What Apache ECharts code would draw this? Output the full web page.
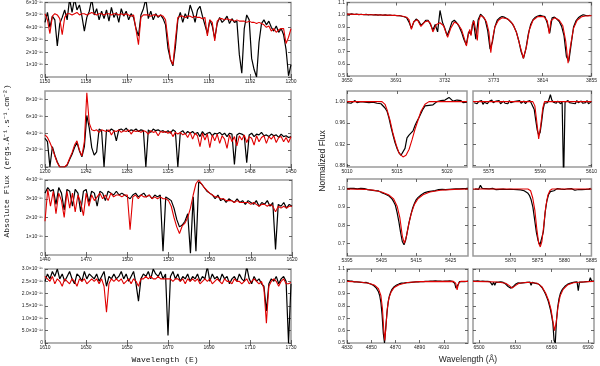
<!DOCTYPE html>
<html>
<head>
<meta charset="utf-8">
<script src="https://cdn.jsdelivr.net/npm/echarts@6/dist/echarts.min.js"></script>
<style>
html, body { margin: 0; padding: 0; background: #fff; }
#chart { width: 600px; height: 366px; }
</style>
</head>
<body>
<div id="chart"></div>
<script>
// ---------- UV spectra (flux in units of 1e-15 erg/A/s/cm2) ----------
// 1150-1200, step 0.5
var uv1Obs = [
  4.4, 5.2, 4.0, 4.9, 4.6, 2.5, 4.3, 4.8, 5.4, 4.6,
  6.3, 5.2, 6.3, 5.4, 5.8, 4.9, 3.7, 4.8, 5.3, 6.3,
  5.0, 5.5, 4.6, 5.3, 4.7, 5.4, 4.5, 5.6, 4.8, 5.2,
  4.4, 5.5, 4.9, 5.3, 4.6, 5.1, 4.8, 3.9, 3.3, 5.0,
  5.5, 6.3, 4.7, 5.3, 4.6, 5.1, 4.8, 5.0, 4.7, 4.2,
  2.3, 1.4, 0.9, 2.4, 4.6, 5.2, 4.4, 5.1, 4.7, 5.8,
  5.2, 4.4, 5.4, 5.7, 4.9, 4.2, 3.5, 4.6, 4.1, 3.1,
  4.3, 4.8, 4.4, 4.6, 4.9, 4.3, 4.7, 4.4, 4.5, 1.8,
  0.3, 3.9, 5.0, 4.6, 1.5, 0.6, 0.0, 2.8, 4.3, 4.6,
  4.2, 4.5, 4.0, 3.7, 4.1, 3.6, 3.9, 3.4, 2.2, 0.1,
  1.0
];
var uv1Mod = [
  5.1, 4.6, 3.5, 4.9, 5.1, 5.0, 4.7, 3.4, 4.8, 5.1,
  5.1, 5.0, 5.1, 5.2, 5.0, 5.1, 5.1, 5.0, 5.1, 5.2,
  5.1, 5.0, 5.1, 5.1, 5.0, 5.1, 5.1, 5.0, 5.1, 5.1,
  5.0, 5.1, 5.0, 5.1, 5.0, 4.9, 5.0, 3.8, 2.6, 4.8,
  5.0, 5.0, 5.0, 4.9, 5.0, 5.0, 4.9, 5.0, 4.9, 4.6,
  3.0, 1.4, 1.0, 3.0, 4.8, 4.9, 4.9, 4.8, 4.9, 4.9,
  4.8, 4.9, 4.8, 4.8, 4.7, 4.8, 3.3, 4.6, 4.4, 2.9,
  4.5, 4.7, 4.7, 4.6, 4.7, 4.6, 4.6, 4.5, 4.6, 4.5,
  4.5, 4.5, 4.4, 4.5, 4.4, 4.4, 4.3, 4.4, 4.3, 4.2,
  4.0, 4.1, 3.7, 3.9, 3.6, 3.8, 3.9, 3.9, 2.7, 3.2,
  3.9
];
var uv1XTicks = [1150, 1158.33, 1166.67, 1175, 1183.33, 1191.67, 1200];
var uv1YTicks = [0, 1, 2, 3, 4, 5, 6];
var uv1YLabels = ['0', '1×10⁻¹⁵', '2×10⁻¹⁵', '3×10⁻¹⁵', '4×10⁻¹⁵', '5×10⁻¹⁵', '6×10⁻¹⁵'];

// 1200-1450, step 2.5
var uv2Obs = [
  3.4, 3.0, 0.0, 2.4, 1.4, 0.6, 0.0, 0.0, 0.0, 0.2,
  0.9, 1.5, 2.3, 2.9, 1.9, 1.2, 2.4, 6.1, 4.6, 2.3,
  1.4, 1.8, 4.5, 4.3, 0.0, 4.4, 4.2, 4.5, 4.3, 3.1,
  4.4, 4.5, 4.3, 4.6, 4.2, 4.4, 4.3, 4.5, 4.2, 4.4,
  4.3, 0.0, 4.4, 4.1, 4.5, 4.3, 4.4, 4.2, 4.3, 4.1,
  4.3, 4.0, 4.4, 4.2, 0.0, 4.1, 4.3, 3.9, 4.2, 4.0,
  4.2, 3.9, 4.1, 3.6, 4.2, 3.8, 4.0, 4.1, 3.7, 4.0,
  3.9, 4.1, 3.8, 4.0, 3.6, 4.0, 3.9, 0.3, 3.8, 4.0,
  3.9, 3.7, 0.5, 3.8, 4.0, 3.6, 3.9, 3.8, 4.1, 3.7,
  3.8, 3.6, 3.9, 3.7, 3.8, 3.5, 3.9, 3.6, 3.7, 3.5,
  3.6
];
var uv2Mod = [
  3.8, 3.5, 2.9, 2.2, 1.3, 0.5, 0.0, 0.0, 0.0, 0.3,
  1.0, 1.7, 2.6, 3.1, 2.0, 1.3, 3.0, 8.8, 5.2, 4.4,
  4.3, 4.4, 4.1, 4.4, 4.3, 4.2, 4.4, 3.8, 4.3, 4.2,
  4.4, 4.1, 4.3, 4.2, 4.4, 3.9, 4.3, 4.2, 4.3, 4.1,
  4.3, 4.2, 3.9, 4.3, 4.1, 4.2, 3.7, 4.2, 4.1, 4.2,
  4.0, 4.2, 3.6, 4.1, 3.9, 4.1, 3.8, 4.0, 3.5, 4.1,
  3.3, 4.0, 3.7, 2.4, 4.0, 3.2, 3.9, 2.3, 3.8, 3.1,
  3.9, 2.8, 3.7, 3.3, 2.2, 3.8, 3.0, 3.6, 2.5, 3.7,
  3.2, 3.8, 2.9, 3.6, 3.4, 2.6, 3.7, 3.0, 3.5, 3.7,
  2.8, 3.6, 3.3, 3.7, 2.9, 3.5, 3.6, 3.0, 3.5, 2.9,
  3.6
];
var uv2XTicks = [1200, 1241.67, 1283.33, 1325, 1366.67, 1408.33, 1450];
var uv2YTicks = [0, 2, 4, 6, 8];
var uv2YLabels = ['0', '2×10⁻¹⁵', '4×10⁻¹⁵', '6×10⁻¹⁵', '8×10⁻¹⁵'];

// 1440-1620, step 2
var uv3Obs = [
  3.3, 3.6, 3.4, 3.5, 2.7, 3.6, 3.3, 2.4, 3.5, 3.4,
  2.6, 3.5, 3.3, 2.3, 3.4, 3.5, 2.8, 3.4, 3.3, 2.6,
  3.4, 3.3, 2.9, 3.4, 3.3, 3.2, 3.4, 3.2, 3.3, 3.2,
  3.1, 3.0, 3.2, 3.3, 3.1, 3.2, 3.3, 3.1, 3.2, 3.0,
  3.2, 3.1, 3.2, 0.2, 3.1, 3.0, 2.9, 2.5, 1.9, 1.5,
  1.6, 1.8, 2.2, 0.1, 3.1, 0.2, 3.9, 3.8, 3.6, 3.4,
  3.3, 3.2, 3.0, 3.2, 2.9, 3.0, 2.8, 3.0, 2.9, 2.8,
  3.0, 2.8, 2.9, 2.7, 2.9, 2.8, 2.7, 2.9, 2.6, 2.8,
  2.7, 2.9, 2.6, 2.8, 0.3, 2.7, 2.6, 2.8, 2.5, 2.7,
  2.6
];
var uv3Mod = [
  1.8, 3.5, 2.6, 3.4, 2.2, 3.3, 2.9, 2.0, 3.4, 2.5,
  3.3, 2.3, 3.2, 2.8, 2.1, 3.3, 2.6, 3.2, 2.9, 3.1,
  3.3, 3.0, 3.2, 2.9, 3.3, 3.1, 3.2, 3.2, 3.1, 3.2,
  3.2, 1.35, 3.1, 3.2, 3.0, 3.2, 3.1, 3.1, 3.2, 3.0,
  3.1, 3.0, 3.1, 3.0, 3.0, 2.9, 2.6, 2.0, 1.5, 1.15,
  1.55, 1.7, 2.0, 2.5, 3.2, 3.8, 4.0, 3.8, 3.6, 3.45,
  3.3, 3.2, 3.1, 3.1, 3.0, 3.0, 2.9, 2.9, 2.9, 2.8,
  2.9, 2.8, 2.8, 2.8, 2.8, 2.7, 2.8, 2.7, 2.6, 2.7,
  2.7, 2.6, 2.7, 2.6, 2.3, 2.6, 2.5, 2.6, 2.5, 2.6,
  2.6
];
var uv3XTicks = [1440, 1470, 1500, 1530, 1560, 1590, 1620];
var uv3YTicks = [0, 1, 2, 3, 4];
var uv3YLabels = ['0', '1×10⁻¹⁵', '2×10⁻¹⁵', '3×10⁻¹⁵', '4×10⁻¹⁵'];

// 1610-1730, step 1.2
var uv4Obs = [
  2.5, 2.8, 2.6, 2.9, 2.7, 3.0, 2.6, 2.8, 2.5, 2.7,
  2.9, 2.6, 2.4, 2.8, 2.7, 2.5, 2.9, 2.6, 2.8, 2.7,
  2.6, 2.8, 2.5, 2.7, 2.9, 2.3, 2.7, 2.6, 2.8, 2.6,
  2.7, 2.9, 2.6, 2.8, 2.5, 2.7, 2.9, 2.4, 1.7, 2.6,
  2.8, 2.7, 2.9, 2.6, 3.0, 2.8, 2.7, 2.9, 2.6, 2.8,
  0.3, 2.7, 2.9, 2.6, 2.8, 2.5, 2.7, 2.6, 2.8, 2.5,
  2.7, 2.6, 2.8, 2.5, 2.7, 2.6, 3.1, 2.5, 2.8, 2.6,
  2.7, 2.5, 2.8, 2.6, 2.7, 2.4, 2.6, 2.7, 2.5, 2.8,
  2.6, 2.5, 3.1, 2.6, 2.4, 2.7, 2.5, 2.6, 2.4, 2.3,
  1.3, 2.4, 2.6, 2.5, 2.7, 2.4, 2.6, 2.7, 2.5, 0.0,
  2.4
];
var uv4Mod = [
  2.7, 2.6, 2.5, 2.7, 2.4, 2.6, 2.5, 2.3, 2.6, 2.5,
  2.4, 2.6, 2.5, 2.3, 2.6, 2.5, 2.6, 2.4, 2.5, 2.6,
  2.5, 2.6, 2.4, 2.6, 2.3, 1.25, 2.4, 2.6, 2.5, 2.6,
  2.5, 2.6, 2.4, 2.5, 2.6, 2.4, 2.6, 2.5, 2.3, 2.6,
  2.6, 2.7, 2.6, 2.7, 2.6, 2.6, 2.7, 2.6, 2.6, 2.6,
  2.6, 2.6, 2.5, 2.6, 2.6, 2.5, 2.6, 2.4, 2.6, 2.5,
  2.6, 2.5, 2.6, 2.4, 2.5, 2.6, 2.5, 2.6, 2.4, 2.5,
  2.6, 2.5, 2.4, 2.6, 2.5, 2.5, 2.4, 2.6, 2.5, 2.5,
  2.4, 2.5, 2.6, 2.4, 2.5, 2.6, 2.5, 2.4, 2.5, 2.2,
  0.8, 2.3, 2.5, 2.6, 2.5, 2.3, 2.5, 2.6, 2.4, 2.4,
  2.45
];
var uv4XTicks = [1610, 1630, 1650, 1670, 1690, 1710, 1730];
var uv4YTicks = [0, 0.5, 1, 1.5, 2, 2.5, 3];
var uv4YLabels = ['0', '5.0×10⁻¹⁶', '1.0×10⁻¹⁵', '1.5×10⁻¹⁵', '2.0×10⁻¹⁵', '2.5×10⁻¹⁵', '3.0×10⁻¹⁵'];

// ---------- optical, normalized flux ----------
// Balmer series 3650-3854, step 2
var balObs = [
  1.006, 1.003, 1.007, 1.002, 1.005, 1.001, 1.004, 1.000, 1.003, 0.999,
  1.002, 0.998, 1.001, 0.997, 1.000, 0.996, 0.999, 0.995, 0.998, 0.994,
  0.996, 0.992, 0.994, 0.988, 0.984, 0.975, 0.940, 0.890, 0.940, 0.965,
  0.950, 0.915, 0.930, 0.955, 0.955, 0.920, 0.875, 0.920, 0.860, 1.035,
  0.940, 0.890, 0.830, 0.880, 0.940, 0.955, 0.935, 0.905, 0.860, 0.800,
  0.755, 0.860, 0.840, 0.955, 0.800, 0.960, 1.005, 0.985, 0.955, 0.870,
  0.720, 0.780, 0.900, 0.955, 0.975, 0.985, 0.980, 0.970, 0.955, 0.935,
  0.905, 0.860, 0.790, 0.700, 0.645, 0.720, 0.840, 0.920, 0.960, 0.980,
  0.990, 0.995, 0.990, 0.985, 0.930, 0.850, 0.975, 0.980, 0.965, 0.945,
  0.905, 0.830, 0.660, 0.620, 0.760, 0.900, 0.950, 0.975, 0.990, 1.000,
  0.995, 0.992, 0.996
];
var balMod = [
  [3650, 1.005], [3670, 1.0], [3690, 0.995], [3696, 0.99], [3700, 0.98], [3702, 0.96],
  [3704, 0.88], [3706, 0.945], [3709, 0.96], [3712, 0.905], [3715, 0.94], [3718, 0.95],
  [3720, 0.93], [3722, 0.86], [3725, 0.92], [3728, 0.935], [3731, 0.91], [3734.4, 0.815],
  [3737, 0.89], [3740, 0.94], [3743, 0.925], [3746, 0.88], [3748, 0.82], [3750.2, 0.745],
  [3752, 0.85], [3753, 0.88], [3754, 0.83], [3755, 0.92], [3756.5, 0.95], [3758, 0.87],
  [3759.3, 0.79], [3760.5, 0.95], [3762, 0.995], [3765, 0.975], [3767, 0.94], [3769, 0.86],
  [3770.6, 0.69], [3772, 0.80], [3774, 0.90], [3777, 0.955], [3780, 0.975], [3785, 0.965],
  [3789, 0.925], [3792, 0.86], [3795, 0.75], [3797.9, 0.645], [3800.5, 0.74], [3803, 0.88],
  [3806, 0.955], [3810, 0.985], [3815, 0.985], [3818, 0.95], [3819.6, 0.845], [3821, 0.95],
  [3824, 0.975], [3828, 0.955], [3831, 0.91], [3833.5, 0.78], [3835.4, 0.605], [3837.5, 0.75],
  [3840, 0.89], [3843, 0.955], [3847, 0.985], [3850, 0.99], [3855, 0.993]
];
var balXTicks = [3650, 3691, 3732, 3773, 3814, 3855];
var balYTicks = [0.5, 0.6, 0.7, 0.8, 0.9, 1.0, 1.1];
var balYLabels = ['0.5', '0.6', '0.7', '0.8', '0.9', '1.0', '1.1'];

// He I 5016, 5010-5022 step 0.2
var he5016Obs = [
  0.998, 1.001, 0.997, 0.999, 1.002, 0.998, 0.996, 1.000, 0.997, 0.999,
  1.001, 0.998, 0.996, 0.999, 1.001, 0.997, 0.999, 0.996, 0.994, 0.988,
  0.982, 0.969, 0.952, 0.937, 0.923, 0.912, 0.904, 0.899, 0.898, 0.912,
  0.932, 0.937, 0.940, 0.945, 0.955, 0.963, 0.970, 0.978, 0.986, 0.992,
  0.995, 0.993, 0.996, 0.994, 0.997, 1.000, 0.998, 1.002, 0.999, 1.003,
  1.004, 1.008, 1.005, 1.001, 0.998, 1.003, 1.000, 1.002, 0.998, 1.001,
  0.999
];
var he5016Mod = [
  [5010, 1.0], [5013.5, 1.0], [5013.8, 0.995], [5014.0, 0.985], [5014.3, 0.965], [5014.6, 0.94],
  [5014.9, 0.92], [5015.2, 0.903], [5015.6, 0.896], [5015.9, 0.899], [5016.2, 0.91], [5016.5, 0.928],
  [5016.8, 0.948], [5017.1, 0.965], [5017.4, 0.982], [5017.8, 0.995], [5018.2, 1.0], [5022, 1.0]
];
var he5016XTicks = [5010, 5015, 5020];
var normYTicks1 = [0.88, 0.92, 0.96, 1.00];
var normYLabels1 = ['0.88', '0.92', '0.96', '1.00'];

// 5570-5610 step 0.5
var l5592Obs = [
  0.998, 1.001, 0.996, 1.000, 0.997, 1.002, 0.995, 0.999, 1.001, 0.996,
  1.000, 0.997, 1.003, 0.998, 0.995, 1.001, 0.998, 1.002, 0.996, 0.999,
  1.001, 0.997, 1.000, 0.996, 1.002, 0.998, 0.995, 1.000, 0.997, 1.001,
  0.998, 1.002, 0.997, 0.999, 1.001, 0.996, 1.000, 0.998, 1.002, 0.997,
  0.995, 0.985, 0.965, 0.947, 0.937, 0.942, 0.962, 0.985, 0.997, 1.000,
  0.998, 1.004, 1.013, 1.003, 0.999, 1.002, 0.997, 1.001, 0.998, 0.996,
  1.000, 0.850, 0.999, 0.996, 1.002, 0.998, 1.001, 0.997, 1.000, 0.996,
  1.002, 0.998, 0.995, 1.001, 0.997, 1.000, 0.998, 1.002, 0.996, 0.999,
  1.000
];
var l5592Mod = [
  [5569.6, 1.0], [5590.0, 1.0], [5590.7, 0.992], [5591.3, 0.965], [5592.0, 0.93],
  [5592.7, 0.955], [5593.4, 0.988], [5594.0, 1.0], [5610, 1.0]
];
var l5592XTicks = [5575, 5592.5, 5610];
var l5592XLabels = ['5575', '5590', '5610'];

// He II 5411, 5395-5430 step 0.5
var he5411Obs = [
  1.002, 0.995, 1.004, 0.998, 1.003, 0.996, 1.001, 0.999, 1.004, 0.997,
  1.002, 0.998, 0.996, 1.001, 0.994, 0.997, 0.991, 0.988, 0.990, 0.983,
  0.980, 0.976, 0.972, 0.968, 0.963, 0.956, 0.945, 0.930, 0.910, 0.870,
  0.820, 0.760, 0.710, 0.692, 0.720, 0.770, 0.820, 0.860, 0.895, 0.920,
  0.940, 0.952, 0.962, 0.968, 0.975, 0.980, 0.983, 0.985, 0.990, 0.988,
  0.993, 0.991, 0.995, 0.997, 0.993, 0.998, 1.000, 0.996, 1.001, 0.998,
  1.002, 0.999, 1.003, 1.000, 1.004, 1.001, 1.005, 1.002, 1.006, 1.003,
  1.004
];
var he5411Mod = [
  [5395, 1.0], [5400, 0.998], [5403, 0.992], [5405, 0.983], [5407, 0.968], [5408.5, 0.945],
  [5409.5, 0.905], [5410.3, 0.84], [5411, 0.74], [5411.6, 0.70], [5412.2, 0.74], [5412.9, 0.81],
  [5413.6, 0.865], [5414.5, 0.915], [5415.5, 0.945], [5417, 0.968], [5419, 0.983], [5422, 0.993],
  [5426, 0.998], [5430, 1.0]
];
var he5411XTicks = [5395, 5405, 5415, 5425];
var normYTicks2 = [0.7, 0.8, 0.9, 1.0];
var normYLabels2 = ['0.7', '0.8', '0.9', '1.0'];

// He I 5876, 5863.4-5884.85 step 0.325
var he5876Obs = [
  1.000, 1.004, 0.998, 1.020, 1.003, 0.999, 1.002, 0.997, 1.001, 0.998,
  1.003, 0.999, 0.996, 1.001, 0.998, 1.002, 0.999, 1.003, 0.997, 1.000,
  0.998, 1.001, 0.997, 1.002, 0.996, 0.999, 0.995, 0.992, 0.990, 0.985,
  0.978, 0.965, 0.940, 0.900, 0.830, 0.760, 0.715, 0.690, 0.700, 0.765,
  0.870, 0.935, 0.970, 0.985, 0.995, 0.990, 0.997, 1.002, 0.995, 0.999,
  1.003, 0.997, 0.994, 1.001, 0.996, 1.002, 0.998, 0.993, 1.000, 0.997,
  1.002, 0.996, 1.000, 0.997, 1.003, 0.999, 1.004
];
var he5876Mod = [
  [5863, 1.0], [5873.2, 1.0], [5873.7, 0.99], [5874.1, 0.95], [5874.5, 0.88], [5874.85, 0.78],
  [5875.2, 0.70], [5875.5, 0.68], [5875.8, 0.71], [5876.15, 0.80], [5876.5, 0.90], [5876.9, 0.965],
  [5877.3, 0.992], [5877.7, 1.0], [5885, 1.0]
];
var he5876XTicks = [5870, 5876.5, 5883];
var he5876XLabelAt = [5870, 5875, 5880, 5885];

// H beta, 4830-4930 step 1
var hbObs = [
  1.005, 0.998, 1.003, 0.997, 1.002, 0.999, 0.996, 1.001, 0.995, 0.998,
  0.994, 0.997, 0.992, 0.995, 0.990, 0.988, 0.991, 0.985, 0.983, 0.980,
  0.976, 0.972, 0.966, 0.958, 0.948, 0.935, 0.915, 0.885, 0.830, 0.730,
  0.580, 0.500, 0.620, 0.740, 0.830, 0.880, 0.910, 0.932, 0.947, 0.957,
  0.965, 0.970, 0.976, 0.979, 0.983, 0.985, 0.988, 0.986, 0.991, 0.989,
  0.993, 0.990, 0.995, 0.992, 0.997, 0.994, 0.998, 0.995, 0.999, 0.996,
  1.000, 0.997, 1.001, 0.998, 1.002, 0.999, 1.003, 1.000, 0.997, 1.002,
  0.998, 1.001, 0.997, 1.003, 0.999, 1.002, 0.998, 1.001, 0.996, 1.000,
  0.998, 1.002, 0.997, 1.001, 0.999, 1.003, 0.998, 1.000, 0.996, 0.985,
  0.945, 0.935, 0.975, 0.998, 1.002, 0.997, 1.001, 0.998, 1.003, 0.999,
  1.001
];
var hbMod = [
  [4830, 1.0], [4840, 0.995], [4848, 0.985], [4853, 0.968], [4856, 0.94], [4858, 0.885],
  [4859.3, 0.78], [4860.3, 0.62], [4861.2, 0.52], [4862.1, 0.62], [4863.2, 0.77], [4864.5, 0.86],
  [4866.5, 0.915], [4869, 0.95], [4873, 0.973], [4880, 0.99], [4890, 0.998], [4918, 1.0],
  [4919.8, 0.985], [4921, 0.93], [4922.2, 0.985], [4924, 1.0], [4930, 1.0]
];
var hbXTicks = [4830, 4850, 4870, 4890, 4910];

// H alpha, 6495-6595 step 1
var haObs = [
  1.002, 0.997, 1.001, 0.998, 1.003, 0.996, 1.000, 0.998, 1.002, 0.997,
  1.000, 0.996, 0.999, 0.994, 0.998, 0.995, 0.970, 0.993, 0.968, 0.992,
  0.997, 0.993, 0.990, 0.996, 0.987, 0.991, 0.985, 0.978, 0.970, 0.958,
  0.950, 0.945, 0.948, 0.955, 0.967, 0.976, 0.983, 0.987, 0.990, 0.985,
  0.991, 0.988, 0.993, 0.990, 0.975, 0.992, 0.989, 0.994, 0.968, 0.992,
  0.990, 0.986, 0.988, 0.982, 0.978, 0.972, 0.962, 0.950, 0.935, 0.915,
  0.895, 0.870, 0.845, 0.810, 0.770, 0.720, 0.660, 0.520, 0.500, 0.680,
  0.790, 0.855, 0.895, 0.920, 0.937, 0.950, 0.960, 0.968, 0.975, 0.980,
  0.984, 0.987, 0.990, 0.988, 0.993, 0.991, 0.995, 0.925, 0.993, 0.997,
  0.994, 0.998, 0.995, 1.000, 0.997, 1.002, 0.999, 1.030, 1.001, 0.998,
  1.002
];
var haMod = [
  [6495, 1.0], [6515, 0.995], [6522, 0.985], [6525, 0.965], [6527.3, 0.945], [6530, 0.965],
  [6533, 0.985], [6540, 0.993], [6548, 0.985], [6552, 0.955], [6555, 0.905], [6557.5, 0.845],
  [6559.5, 0.77], [6561, 0.68], [6562.4, 0.60], [6563.8, 0.67], [6565.2, 0.79], [6567, 0.88],
  [6569.5, 0.935], [6573, 0.97], [6578, 0.988], [6585, 0.995], [6595, 1.0]
];
var haXTicks = [6500, 6530, 6560, 6590];

// sampled spectrum -> [wavelength, flux]
function grid(start, step, vals) {
  return vals.map(function (v, i) { return [+(start + step * i).toFixed(3), v]; });
}

var panels = [
  { box: [45, 2, 246, 75], xr: [1150, 1200], xt: uv1XTicks, yr: [0, 6], yt: uv1YTicks, yl: uv1YLabels,
    obs: grid(1150, 0.5, uv1Obs), mod: grid(1150, 0.5, uv1Mod) },
  { box: [45, 91, 246, 76], xr: [1200, 1450], xt: uv2XTicks, yr: [0, 9], yt: uv2YTicks, yl: uv2YLabels,
    obs: grid(1200, 2.5, uv2Obs), mod: grid(1200, 2.5, uv2Mod) },
  { box: [45, 180, 247, 75], xr: [1440, 1620], xt: uv3XTicks, yr: [0, 4], yt: uv3YTicks, yl: uv3YLabels,
    obs: grid(1440, 2, uv3Obs), mod: grid(1440, 2, uv3Mod) },
  { box: [45, 269, 246, 74], xr: [1610, 1730], xt: uv4XTicks, yr: [0, 3], yt: uv4YTicks, yl: uv4YLabels,
    obs: grid(1610, 1.2, uv4Obs), mod: grid(1610, 1.2, uv4Mod) },
  { box: [347, 2, 247, 74], xr: [3650, 3855], xt: balXTicks, yr: [0.5, 1.1], yt: balYTicks, yl: balYLabels,
    obs: grid(3650, 2, balObs), mod: balMod },
  { box: [347, 91, 120, 76], xr: [5010, 5022], xt: he5016XTicks, yr: [0.877, 1.02], yt: normYTicks1, yl: normYLabels1,
    obs: grid(5010, 0.2, he5016Obs), mod: he5016Mod },
  { box: [473, 91, 121, 76], xr: [5569.6, 5610], xt: l5592XTicks, xl: l5592XLabels, yr: [0.877, 1.02], yt: normYTicks1, yl: null,
    obs: grid(5570, 0.5, l5592Obs), mod: l5592Mod },
  { box: [347, 179, 121, 77], xr: [5395, 5430], xt: he5411XTicks, yr: [0.63, 1.055], yt: normYTicks2, yl: normYLabels2,
    obs: grid(5395, 0.5, he5411Obs), mod: he5411Mod },
  { box: [473, 179, 121, 77], xr: [5863, 5885], xt: he5876XTicks, lt: he5876XLabelAt, yr: [0.63, 1.055], yt: normYTicks2, yl: null,
    obs: grid(5863.4, 0.325, he5876Obs), mod: he5876Mod },
  { box: [347, 269, 121, 74], xr: [4830, 4930], xt: hbXTicks, yr: [0.5, 1.1], yt: balYTicks, yl: balYLabels,
    obs: grid(4830, 1, hbObs), mod: hbMod },
  { box: [473, 269, 121, 74], xr: [6495, 6595], xt: haXTicks, yr: [0.5, 1.1], yt: balYTicks, yl: null,
    obs: grid(6495, 1, haObs), mod: haMod }
];

function pick(ticks, labels, v) {
  var best = 0;
  for (var k = 1; k < ticks.length; k++) {
    if (Math.abs(ticks[k] - v) < Math.abs(ticks[best] - v)) best = k;
  }
  return labels ? labels[best] : String(Math.round(ticks[best]));
}

var tickStyle = { color: '#444', width: 0.8 };
var labelFont = { fontSize: 5, color: '#222', fontFamily: 'Liberation Sans' };

var grids = [], xAxes = [], yAxes = [], series = [];
panels.forEach(function (p, i) {
  var lt = p.lt || p.xt;
  grids.push({ left: p.box[0], top: p.box[1], width: p.box[2], height: p.box[3],
    show: true, borderColor: '#9a9a9a', borderWidth: 1.5 });
  ['bottom', 'top'].forEach(function (pos) {
    xAxes.push({
      type: 'value', gridIndex: i, position: pos, min: p.xr[0], max: p.xr[1],
      axisLine: { show: false }, splitLine: { show: false },
      axisTick: { show: true, inside: true, length: 3, customValues: p.xt, lineStyle: tickStyle },
      axisLabel: Object.assign({ show: pos === 'bottom', margin: 2, customValues: lt,
        formatter: function (v) { return pick(lt, p.xl, v); } }, labelFont)
    });
  });
  ['left', 'right'].forEach(function (pos) {
    yAxes.push({
      type: 'value', gridIndex: i, position: pos, min: p.yr[0], max: p.yr[1],
      axisLine: { show: false }, splitLine: { show: false },
      axisTick: { show: true, inside: true, length: 3, customValues: p.yt, lineStyle: tickStyle },
      axisLabel: Object.assign({ show: pos === 'left' && !!p.yl, margin: 2, customValues: p.yt,
        formatter: function (v) { return pick(p.yt, p.yl, v); } }, labelFont)
    });
  });
  series.push({ type: 'line', xAxisIndex: 2 * i, yAxisIndex: 2 * i, data: p.obs, showSymbol: false,
    clip: true, lineStyle: { color: '#000', width: 1.2 }, z: 2 });
  series.push({ type: 'line', xAxisIndex: 2 * i, yAxisIndex: 2 * i, data: p.mod, showSymbol: false,
    clip: true, lineStyle: { color: '#e00000', width: 1.1 }, z: 3 });
});

var chart = echarts.init(document.getElementById('chart'));
chart.setOption({
  animation: false,
  backgroundColor: '#fff',
  grid: grids,
  xAxis: xAxes,
  yAxis: yAxes,
  series: series,
  graphic: [
    { type: 'text', x: 7, y: 161, rotation: Math.PI / 2,
      style: { text: 'Absolute Flux (ergs.Å⁻¹.s⁻¹.cm⁻²)', font: '8px "Liberation Mono"', fill: '#111',
        textAlign: 'center', textVerticalAlign: 'middle' } },
    { type: 'text', x: 165, y: 360,
      style: { text: 'Wavelength (E)', font: '8px "Liberation Mono"', fill: '#111',
        textAlign: 'center', textVerticalAlign: 'middle' } },
    { type: 'text', x: 323, y: 161, rotation: Math.PI / 2,
      style: { text: 'Normalized Flux', font: '8.5px "Liberation Sans"', fill: '#222',
        textAlign: 'center', textVerticalAlign: 'middle' } },
    { type: 'text', x: 468, y: 360,
      style: { text: 'Wavelength (Å)', font: '8.5px "Liberation Sans"', fill: '#222',
        textAlign: 'center', textVerticalAlign: 'middle' } }
  ]
});
</script>
</body>
</html>
